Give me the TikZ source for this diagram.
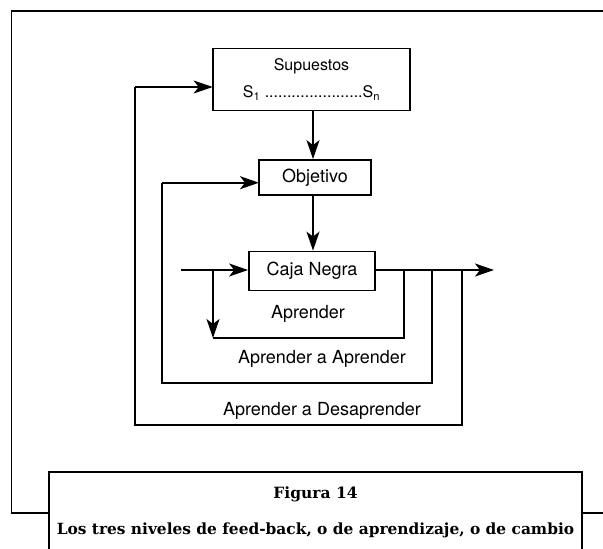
\documentclass[tikz,border=0pt]{standalone}
\usepackage{fontspec}
\usepackage{tikz}
\usetikzlibrary{arrows.meta}
\newfontfamily\helv{TeX Gyre Heros}
\newfontfamily\pie{DejaVu Serif}
\tikzset{
  bloque/.style={draw, line width=1.8pt, inner sep=0pt, font=\helv\fontsize{18}{20}\selectfont},
  flecha/.style={line width=1.8pt, -{Stealth[length=19pt, width=13pt, inset=5pt]}},
  linea/.style={line width=1.8pt},
  rotulo/.style={font=\helv\fontsize{18}{20}\selectfont},
  marco/.style={line width=1.4pt}
}
\begin{document}
\begin{tikzpicture}[x=1pt, y=-1pt]
\useasboundingbox (0,0) rectangle (603,549);
\draw [marco] (603,11) -- (11.5,11) -- (11.5,513) -- (49,513);
\draw [marco] (582,513) -- (603,513);
\draw [marco] (49,549) -- (49,472) -- (582,472) -- (582,549);
\node[bloque, minimum width=197pt, minimum height=62pt, align=center, font=\helv\fontsize{16}{27}\selectfont] (supuestos) at (311.5,79.5) {Supuestos\\S\textsubscript{1} ......................S\textsubscript{n}};
\node[bloque, minimum width=112pt, minimum height=35pt] (objetivo) at (315,177.5) {Objetivo};
\node[bloque, minimum width=126pt, minimum height=39pt] (caja) at (312,271) {Caja Negra};
\coordinate (entrada) at (181,270);
\coordinate (salida) at (494,270);
\coordinate (s3) at (212.7,87);
\coordinate (s2) at (259,182.7);
\draw [flecha] (supuestos.south -| 313,0) -- (objetivo.north -| 313,0);
\draw [flecha] (objetivo.south -| 313,0) -- (caja.north -| 313,0);
\draw [flecha] (entrada) -- (caja.west |- entrada);
\draw [flecha] (caja.east |- salida) -- (salida);
\draw [linea] (404,270) |- (213,338);
\draw [flecha] (213,270) -- (213,338);
\draw [linea] (432,270) |- (162,383) -- (162,182.7);
\draw [flecha] (162,182.7) -- (s2);
\draw [linea] (462,270) |- (135,425) -- (135,87);
\draw [flecha] (135,87) -- (s3);
\node[rotulo] (aprender) at (308,314) {Aprender};
\node[rotulo] (aprender2) at (322,359) {Aprender a Aprender};
\node[rotulo] (desaprender) at (322,411) {Aprender a Desaprender};
\node[font=\pie\bfseries\fontsize{15.5}{17}\selectfont] (figura) at (315.5,494) {Figura 14};
\node[font=\pie\bfseries\fontsize{15.4}{17}\selectfont] (titulo) at (315.5,530.5) {Los tres niveles de feed-back, o de aprendizaje, o de cambio};
\end{tikzpicture}
\end{document}
